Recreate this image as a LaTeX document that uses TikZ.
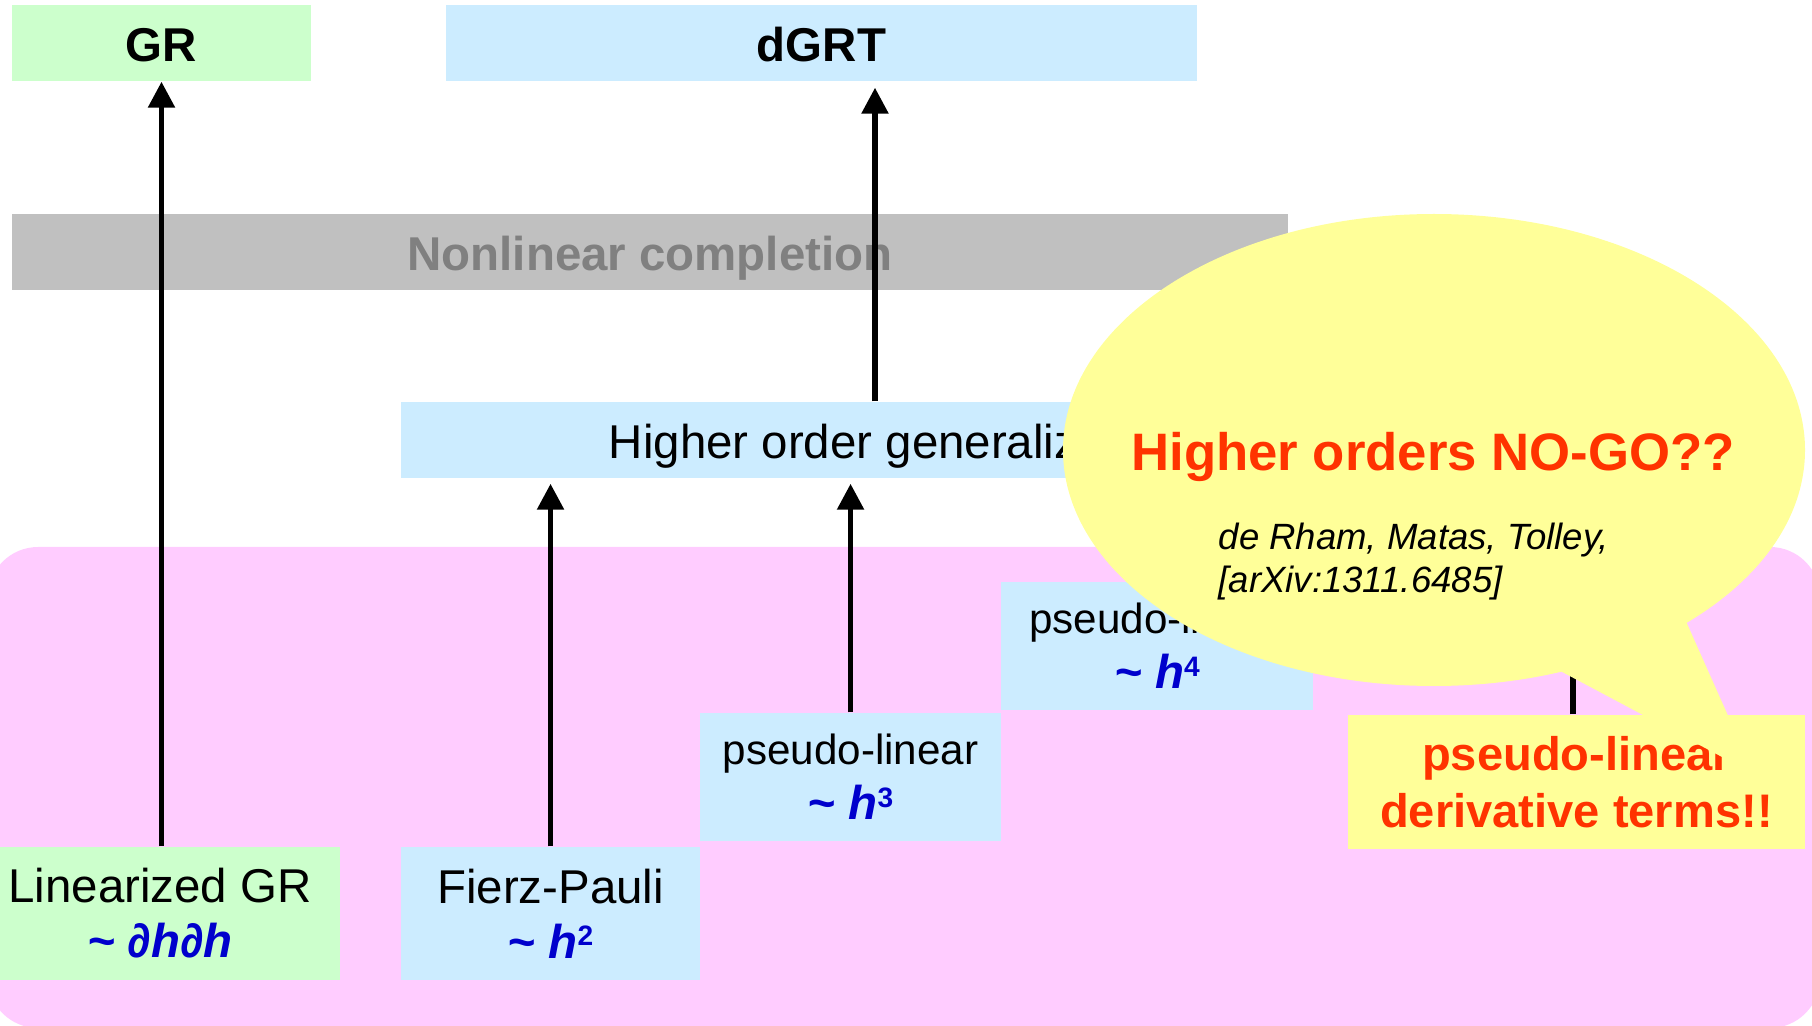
\documentclass[tikz,border=0pt]{standalone}
\usepackage{fontspec}
\setmainfont{Liberation Sans}
\usetikzlibrary{arrows.meta}

\definecolor{grfill}{RGB}{204,255,204}
\definecolor{blfill}{RGB}{204,236,255}
\definecolor{pkfill}{RGB}{255,204,255}
\definecolor{gyfill}{RGB}{192,192,192}
\definecolor{gytext}{RGB}{128,128,128}
\definecolor{ylfill}{RGB}{255,255,153}
\definecolor{nogored}{RGB}{255,51,0}
\definecolor{ordblue}{RGB}{0,0,204}

\newcommand{\ordr}[1]{{\color{ordblue}\bfseries\itshape\textasciitilde\ #1}}
\newcommand{\ordsup}[1]{\raisebox{3.5pt}{\fontsize{8}{8}\selectfont\upshape #1}}

\begin{document}
\begin{tikzpicture}[scale=0.1]
                \tikzstyle{every node}+=[inner sep=0pt, align=center, font=\fontsize{13.5}{15.6}\selectfont]
                \tikzstyle{oneline}=[minimum height=7.6mm, text height=3.7mm, text depth=0pt]
                \tikzstyle{uparr}=[-{Triangle[length=2.6mm,width=2.6mm]}, line width=0.55mm, black]
                \useasboundingbox (0,0) rectangle (181.2,-102.6);
                \fill [pkfill, rounded corners=5mm] (-1.2,-54.7) rectangle (182,-102.8);
                \node [oneline, fill=grfill, minimum width=29.9mm, font=\fontsize{13.5}{15.6}\selectfont\bfseries] (gr) at (16.15,-4.3) {GR};
                \node [oneline, fill=blfill, minimum width=75.1mm, font=\fontsize{13.5}{15.6}\selectfont\bfseries] (dgrt) at (82.15,-4.3) {dGRT};
                \node [oneline, fill=gyfill, text=gytext, minimum width=127.6mm, font=\fontsize{13.5}{15.6}\selectfont\bfseries] (nonlin) at (65.0,-25.2) {Nonlinear completion};
                \node [oneline, fill=blfill, minimum width=98.8mm] (higher) at (89.5,-44.0) {Higher order generalization};
                \node [fill=grfill, minimum width=36.0mm, minimum height=13.3mm] (lingr) at (16.0,-91.35) {Linearized GR\\ \ordr{∂h∂h}};
                \node [fill=blfill, minimum width=29.9mm, minimum height=13.3mm] (fp) at (55.05,-91.35) {Fierz-Pauli\\ \ordr{h\ordsup{2}}};
                \node [fill=blfill, minimum width=30.1mm, minimum height=12.8mm] (hthree) at (85.05,-77.7) {{\fontsize{12}{15.6}\selectfont pseudo-linear}\\ \ordr{h\ordsup{3}}};
                \node [fill=blfill, minimum width=31.2mm, minimum height=12.8mm] (hfour) at (115.7,-64.6) {{\fontsize{12}{15.6}\selectfont pseudo-linear}\\ \ordr{h\ordsup{4}}};
                \draw [uparr] (gr.south |- lingr.north) -- (gr.south);
                \draw [uparr, shorten >=0.6mm] (87.5,0 |- higher.north) -- (87.5,0 |- dgrt.south);
                \draw [uparr, shorten >=0.5mm] (fp.north) -- (fp.north |- higher.south);
                \draw [uparr, shorten >=0.5mm] (hthree.north) -- (hthree.north |- higher.south);
                \draw [uparr, shorten >=0.5mm] (hfour.north) -- (hfour.north |- higher.south);
                \node [fill=ylfill, text=nogored, minimum width=45.7mm, minimum height=13.4mm, font=\fontsize{13.4}{16.4}\selectfont\bfseries] (deriv) at (157.65,-78.2) {pseudo-linear\\ derivative terms!!};
                \draw [uparr, shorten >=0.5mm] (deriv.north -| 157.3,0) -- (157.3,0 |- higher.south);
                \fill [ylfill] (143.4,-45.0) ellipse (37.1 and 23.6);
                \fill [ylfill] (150.2,-64.0) -- (175.4,-77.4) -- (166.0,-56.3) -- cycle;
                \node [anchor=base, text=nogored, font=\fontsize{15}{18}\selectfont\bfseries] (nogo) at (143.3,-47.1) {Higher orders NO-GO??};
                \node [anchor=base west, font=\fontsize{10.4}{12.2}\selectfont\itshape] (authors) at (121.8,-55.0) {de Rham, Matas, Tolley,};
                \node [anchor=base west, font=\fontsize{10.4}{12.2}\selectfont\itshape] (arxiv) at (121.8,-59.3) {[arXiv:1311.6485]};
\end{tikzpicture}
\end{document}
